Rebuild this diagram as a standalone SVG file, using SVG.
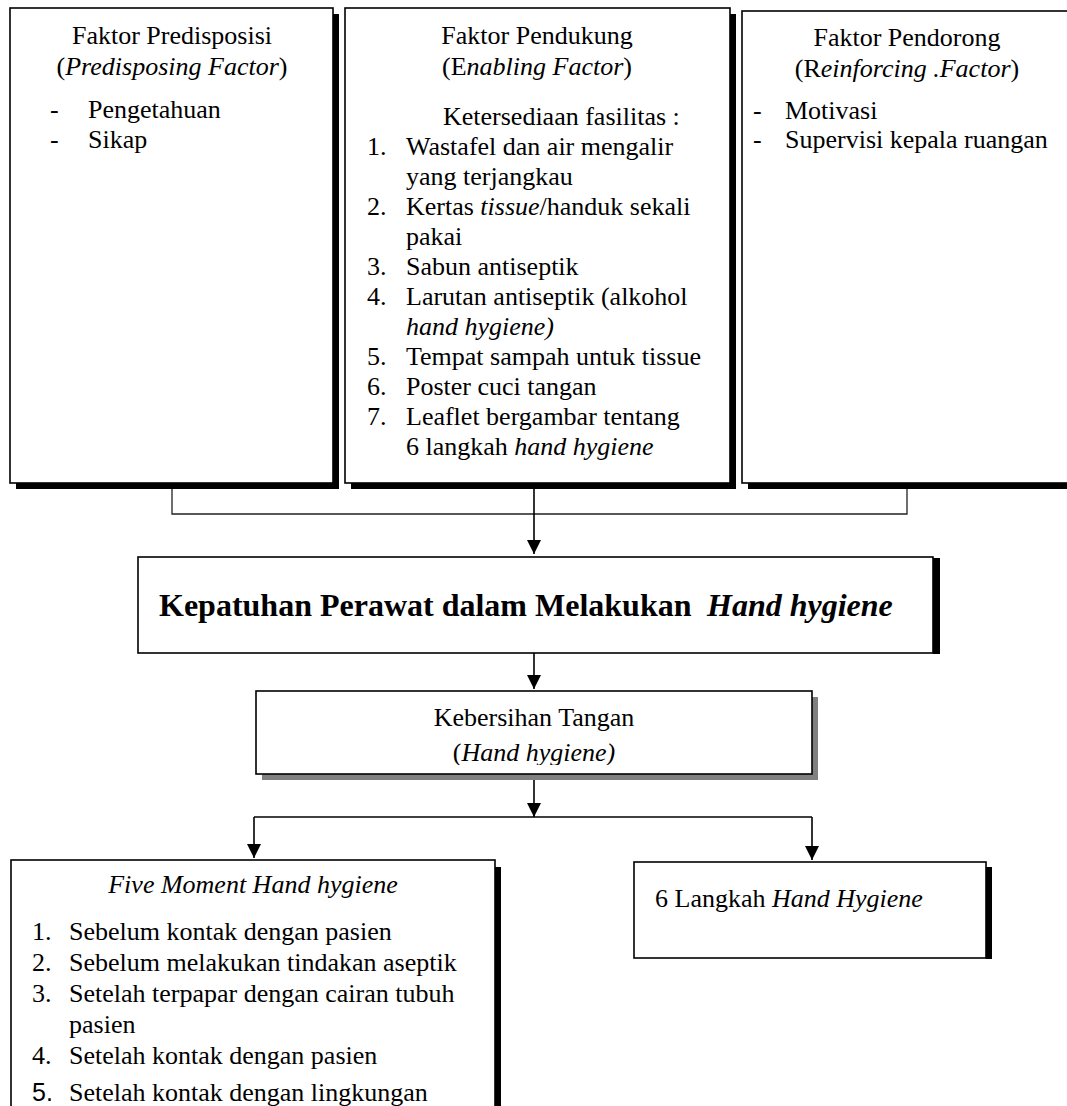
<svg xmlns="http://www.w3.org/2000/svg" width="1067" height="1106" viewBox="0 0 1067 1106">
<style>
text{font-family:"Liberation Serif","Times New Roman",serif;font-size:26px;fill:#000}
.c{text-anchor:middle}
.i{font-style:italic}
.b{font-weight:bold;font-size:32px}
.box{fill:#fff;stroke:#000;stroke-width:1.6}
.sh{fill:#000}
.gsh{fill:#808080}
.ln{fill:none;stroke:#000;stroke-width:1.6}
.ln2{fill:none;stroke:#222;stroke-width:1.3}
</style>
<defs>
<marker id="ah" markerUnits="userSpaceOnUse" markerWidth="14" markerHeight="14" refX="14" refY="7" orient="auto">
<path d="M0,0 L14,7 L0,14 z" fill="#000"/>
</marker>
<clipPath id="kclip"><rect x="256" y="691" width="556" height="74"/></clipPath>
</defs>
<rect width="1067" height="1106" fill="#fff"/>

<g id="connectors">
<path class="ln2" d="M172,489 V514 H907 V483"/>
<path class="ln" d="M534,489 V554" marker-end="url(#ah)"/>
<path class="ln" d="M534,653 V689" marker-end="url(#ah)"/>
<path class="ln" d="M534,774 V817" marker-end="url(#ah)"/>
<path class="ln" d="M254,817 H812"/>
<path class="ln" d="M254,817 V858" marker-end="url(#ah)"/>
<path class="ln" d="M812,817 V860" marker-end="url(#ah)"/>
</g>

<g id="predisposing">
<rect class="sh" x="16" y="14" width="323" height="475"/>
<rect class="box" x="10" y="8" width="323" height="475"/>
<text class="c" x="172" y="44">Faktor Predisposisi</text>
<text class="c" x="172" y="75">(<tspan class="i">Predisposing Factor</tspan>)</text>
<text x="50" y="118">-</text><text x="88" y="118">Pengetahuan</text>
<text x="50" y="148">-</text><text x="88" y="148">Sikap</text>
</g>

<g id="enabling">
<rect class="sh" x="351" y="14" width="385" height="475"/>
<rect class="box" x="345" y="8" width="385" height="475"/>
<text class="c" x="537" y="44">Faktor Pendukung</text>
<text class="c" x="537" y="75">(E<tspan class="i">nabling Factor</tspan>)</text>
<text x="443" y="125">Ketersediaan fasilitas  :</text>
<text x="367" y="155">1.</text><text x="406" y="155">Wastafel dan air mengalir</text>
<text x="406" y="185">yang terjangkau</text>
<text x="367" y="215">2.</text><text x="406" y="215">Kertas <tspan class="i">tissue</tspan>/handuk sekali</text>
<text x="406" y="245">pakai</text>
<text x="367" y="275">3.</text><text x="406" y="275">Sabun antiseptik</text>
<text x="367" y="305">4.</text><text x="406" y="305">Larutan antiseptik (alkohol</text>
<text x="406" y="335" class="i">hand hygiene)</text>
<text x="367" y="365">5.</text><text x="406" y="365">Tempat sampah untuk tissue</text>
<text x="367" y="395">6.</text><text x="406" y="395">Poster cuci tangan</text>
<text x="367" y="425">7.</text><text x="406" y="425">Leaflet bergambar tentang</text>
<text x="406" y="455">6 langkah <tspan class="i">hand hygiene</tspan></text>
</g>

<g id="reinforcing">
<rect class="sh" x="748" y="17" width="330" height="472"/>
<rect class="box" x="742" y="11" width="330" height="472"/>
<text class="c" x="907" y="46">Faktor Pendorong</text>
<text class="c" x="907" y="77">(R<tspan class="i">einforcing .Factor</tspan>)</text>
<text x="753" y="119">-</text><text x="785" y="119">Motivasi</text>
<text x="753" y="148">-</text><text x="785" y="148">Supervisi kepala ruangan</text>
</g>

<g id="kepatuhan">
<rect class="sh" x="933" y="558" width="7" height="96"/>
<rect class="box" x="138" y="557" width="795" height="96"/>
<text class="b" x="159" y="616">Kepatuhan Perawat dalam Melakukan<tspan class="i" x="707">Hand hygiene</tspan></text>
</g>

<g id="kebersihan">
<rect class="gsh" x="262" y="697" width="556" height="83"/>
<rect class="box" x="256" y="691" width="556" height="83"/>
<text class="c" x="534" y="726">Kebersihan Tangan</text>
<text class="c" x="534" y="761" clip-path="url(#kclip)">(<tspan class="i">Hand hygiene)</tspan></text>
</g>

<g id="five-moment">
<rect class="sh" x="495" y="867" width="6" height="260"/>
<rect class="box" x="11" y="860" width="484" height="260"/>
<text class="c i" x="253" y="893">Five Moment Hand hygiene</text>
<text x="32" y="940">1.</text><text x="69" y="940">Sebelum kontak dengan pasien</text>
<text x="32" y="971">2.</text><text x="69" y="971">Sebelum melakukan tindakan aseptik</text>
<text x="32" y="1002">3.</text><text x="69" y="1002">Setelah terpapar dengan cairan tubuh</text>
<text x="69" y="1033">pasien</text>
<text x="32" y="1064">4.</text><text x="69" y="1064">Setelah kontak dengan pasien</text>
<text x="32" y="1101" style="font-family:'Liberation Sans','Open Sans',sans-serif;font-size:25px">5.</text><text x="69" y="1101">Setelah kontak dengan lingkungan</text>
</g>

<g id="enam-langkah">
<rect class="sh" x="986" y="867" width="6" height="92"/>
<rect class="box" x="634" y="862" width="352" height="96"/>
<text x="655" y="907">6 Langkah <tspan class="i">Hand Hygiene</tspan></text>
</g>
</svg>
